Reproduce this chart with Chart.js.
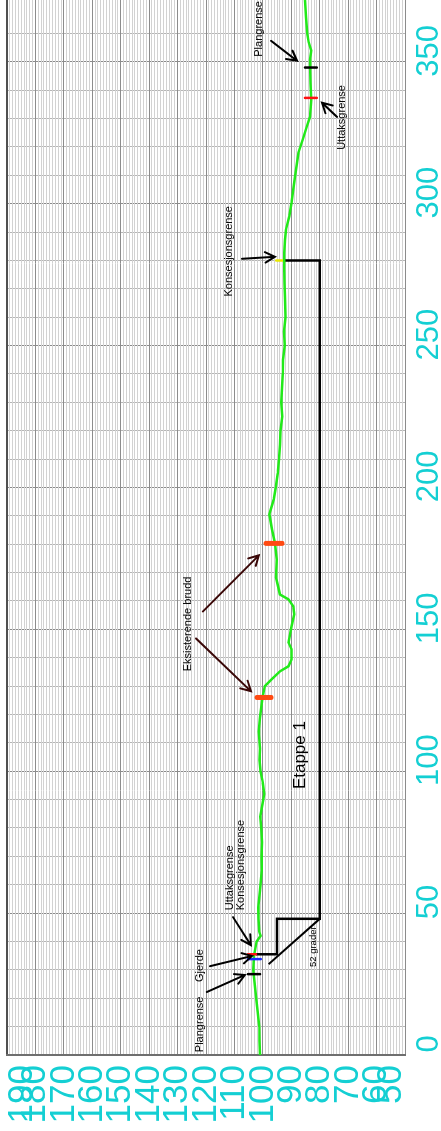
<!DOCTYPE html>
<html>
<head>
<meta charset="utf-8">
<title>Lengdeprofil</title>
<script src="https://cdn.jsdelivr.net/npm/chart.js@4.4.1/dist/chart.umd.min.js"></script>
<style>
  html, body { margin: 0; padding: 0; background: #fff; overflow: hidden; }
  /* the profile is drawn landscape and turned a quarter round */
  #wrap {
    position: absolute; left: 0; top: 0; width: 1131px; height: 441px;
    transform-origin: 0 0;
    transform: translate(0, 1131px) rotate(-90deg);
  }
</style>
</head>
<body>
<div id="wrap"><canvas id="profile" width="1131" height="441"></canvas></div>
<script>
// terrain profile: distance along line (m) and level (moh)
const distance = [0, 5, 10, 15, 19, 24, 30, 35, 40, 42, 43.5, 48, 52, 58, 65, 70, 75, 80, 84, 88, 92, 96, 100, 104, 108, 114, 119, 126, 130, 132.4, 135.2, 137, 139.4, 143, 145.4, 151, 155.3, 158.1, 160.6, 162.3, 168.3, 174.6, 180.3, 185.2, 190.5, 195.8, 200, 205, 210, 215, 220, 225, 230, 235, 240, 245, 250, 255, 260, 267, 272, 276.8, 282.7, 287.3, 290.8, 295.5, 300.3, 305, 309.5, 314.4, 318, 322.5, 327, 330.6, 336.6, 342.6, 350.7, 354, 357, 360, 365.8, 371.8];
const level = [101.0, 101.2, 101.3, 101.8, 102.2, 102.8, 103.4, 103.1, 102.2, 100.8, 101.3, 101.5, 101.6, 101.0, 100.4, 100.5, 100.3, 100.6, 100.9, 100.2, 99.5, 100.0, 100.8, 101.2, 101.0, 101.4, 101.0, 100.1, 99.3, 96.9, 94.0, 91.0, 89.9, 89.9, 91.0, 89.9, 89.0, 89.3, 91.0, 94.0, 95.4, 95.1, 95.7, 96.8, 97.7, 96.2, 95.5, 94.8, 94.3, 94.0, 93.8, 93.2, 93.5, 93.3, 93.0, 92.9, 92.3, 92.6, 92.0, 92.2, 92.4, 92.5, 92.5, 92.2, 91.9, 90.7, 89.9, 89.3, 88.7, 88.0, 87.5, 86.0, 84.6, 83.4, 83.0, 83.2, 83.4, 83.0, 83.9, 84.4, 84.8, 85.2];

// axis ranges and tick steps
const xRange = [0, 371.8];
const yRange = [50, 190];
const xLabelStep = 50;
const yLabelStep = 10;

// boundary marks across the profile: [distance, level from, level to]
const markBrudd = [[126, 102.1, 97.1], [180.3, 98.9, 93.3]];
const markPlan = [[28.5, 105.2, 101.0], [348, 85.2, 81.0]];
const markUttak = [[35.5, 105.2, 102.4], [337.3, 85.2, 81.0]];
const markKonsesjon = [[33.8, 105.2, 100.7]];
const markKonsesjonTopp = [[280, 95.3, 92.4]];

// outline of Etappe 1 and the 52 degree slope
const etappeX = [280, 280, 48, 48, 35.5, 35.5];
const etappeY = [92.5, 80, 80, 95, 95, 102.4];
const slopeX = [48, 32];
const slopeY = [80, 98];

// arrows, from -> tip, in distance/level
const arrows = [
  { from: [280.6, 107.3], to: [281.3, 95.8], dark: false },
  { from: [357.4, 97.1], to: [350.4, 88.0], dark: false },
  { from: [330.6, 73.9], to: [335.6, 79.2], dark: false },
  { from: [156.3, 121.1], to: [176.1, 101.4], dark: true },
  { from: [146.8, 123.5], to: [128.2, 104.2], dark: true },
  { from: [48.6, 110.5], to: [38.7, 104.2], dark: false },
  { from: [31.3, 118.6], to: [34.9, 103.8], dark: false },
  { from: [22.2, 119.7], to: [28.2, 106.3], dark: false }
];

// text notes, left edge at [distance, level]
const notes = [
  { text: 'Konsesjonsgrense', at: [267.3, 111.9] },
  { text: 'Plangrense', at: [351.8, 101.4] },
  { text: 'Uttaksgrense', at: [319, 72.2] },
  { text: 'Eksisterende brudd', at: [135.2, 126.3] },
  { text: 'Uttaksgrense', at: [51, 111.7] },
  { text: 'Konsesjonsgrense', at: [51, 107.7] },
  { text: 'Plangrense', at: [1, 122.1] },
  { text: 'Gjerde', at: [25.7, 122.1] },
  { text: '52 grader', at: [31, 82.2], size: 9.5 },
  { text: 'Etappe 1', at: [93.7, 86.9], size: 17 }
];

const TICK_FONT = '"Liberation Sans Narrow", "Arial Narrow", "Liberation Sans", Arial, sans-serif';
const NOTE_FONT = '"Liberation Sans", Arial, sans-serif';

function pairs(xs, ys) {
  return xs.map((x, i) => ({ x, y: ys[i] }));
}

function marks(list) {
  const pts = [];
  list.forEach(([x, a, b]) => {
    pts.push({ x, y: a }, { x, y: b }, { x, y: null });
  });
  return pts;
}

function markSet(list, color, width, order) {
  return {
    data: marks(list),
    borderColor: color,
    borderWidth: width,
    borderCapStyle: 'round',
    pointRadius: 0,
    spanGaps: false,
    order
  };
}

const notesPlugin = {
  id: 'notes',
  beforeDraw(chart) {
    // pull the outermost level labels in towards their neighbours
    const sy = chart.scales.y;
    sy.getLabelItems().forEach(item => {
      if (item.label === '190') item.options.translation[1] = sy.getPixelForValue(190) + 15;
      if (item.label === '50') item.options.translation[1] = sy.getPixelForValue(50) - 14;
    });
  },
  afterDatasetsDraw(chart) {
    const { ctx, scales: { x, y } } = chart;
    ctx.save();
    ctx.lineCap = 'round';
    arrows.forEach(a => {
      const ax = x.getPixelForValue(a.from[0]), ay = y.getPixelForValue(a.from[1]);
      const bx = x.getPixelForValue(a.to[0]), by = y.getPixelForValue(a.to[1]);
      const ang = Math.atan2(by - ay, bx - ax);
      const head = 11, spread = 0.5;
      ctx.strokeStyle = a.dark ? '#3a0707' : '#000';
      ctx.lineWidth = 2;
      ctx.beginPath();
      ctx.moveTo(ax, ay);
      ctx.lineTo(bx, by);
      ctx.moveTo(bx - head * Math.cos(ang - spread), by - head * Math.sin(ang - spread));
      ctx.lineTo(bx, by);
      ctx.lineTo(bx - head * Math.cos(ang + spread), by - head * Math.sin(ang + spread));
      ctx.stroke();
    });
    ctx.fillStyle = '#000';
    ctx.textAlign = 'left';
    ctx.textBaseline = 'middle';
    notes.forEach(n => {
      ctx.font = (n.size || 11) + 'px ' + NOTE_FONT;
      ctx.fillText(n.text, x.getPixelForValue(n.at[0]), y.getPixelForValue(n.at[1]));
    });
    ctx.restore();
  }
};

new Chart(document.getElementById('profile'), {
  type: 'line',
  data: {
    datasets: [
      markSet(markBrudd, '#ff4a12', 5, 0),
      markSet(markPlan, '#000000', 2.5, 0),
      markSet(markUttak, '#ff1010', 2.5, 0),
      markSet(markKonsesjon, '#1a2cff', 2.5, 0),
      markSet(markKonsesjonTopp, '#e8e800', 2.5, 3),
      {
        data: pairs(distance, level),
        borderColor: '#22ea1a',
        borderWidth: 2.5,
        pointRadius: 0,
        tension: 0,
        order: 1
      },
      {
        data: pairs(etappeX, etappeY),
        borderColor: '#000',
        borderWidth: 2.5,
        pointRadius: 0,
        order: 2
      },
      {
        data: pairs(slopeX, slopeY),
        borderColor: '#000',
        borderWidth: 2,
        pointRadius: 0,
        order: 2
      }
    ]
  },
  options: {
    responsive: false,
    animation: false,
    devicePixelRatio: 1,
    layout: { padding: { top: 7, right: 0, bottom: 0, left: 0 } },
    plugins: { legend: { display: false }, tooltip: { enabled: false } },
    scales: {
      x: {
        type: 'linear',
        min: xRange[0],
        max: xRange[1],
        border: { color: '#8c8c8c', width: 1 },
        grid: {
          drawTicks: false,
          color: c => (c.tick.value % xLabelStep === 0 ? '#8a8a8a' : '#b6b6b6'),
          lineWidth: 1
        },
        ticks: {
          stepSize: 10,
          autoSkip: false,
          maxRotation: 0,
          padding: 6,
          labelOffset: 11,
          color: '#14cfd3',
          font: { family: TICK_FONT, size: 31 },
          callback: v => (v % xLabelStep === 0 ? String(v) : '')
        },
        afterFit: s => { s.height = 36; s.paddingLeft = 0; s.paddingRight = 0; }
      },
      y: {
        type: 'linear',
        min: yRange[0],
        max: yRange[1],
        border: { color: '#6e6e6e', width: 2 },
        grid: {
          drawTicks: false,
          color: c => (c.tick.value === yRange[1] ? '#505050' : c.tick.value % yLabelStep === 0 ? '#8c8c8c' : '#d2d2d2'),
          lineWidth: c => (c.tick.value === yRange[1] ? 2 : 1)
        },
        ticks: {
          stepSize: 1,
          autoSkip: false,
          padding: 10,
          color: '#14cfd3',
          font: { family: TICK_FONT, size: 35 },
          callback: v => (v % yLabelStep === 0 ? String(v) : '')
        },
        afterFit: s => { s.width = 76; s.paddingTop = 0; s.paddingBottom = 0; }
      }
    }
  },
  plugins: [notesPlugin]
});
</script>
</body>
</html>
